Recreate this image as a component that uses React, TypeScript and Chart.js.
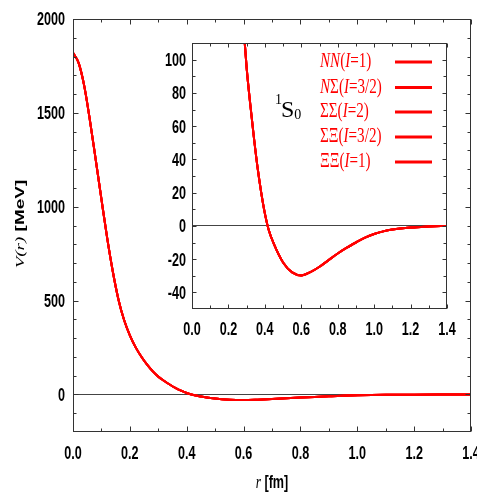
import { useEffect, useRef } from "react";
import { Chart, registerables } from "chart.js";
Chart.register(...registerables);

// r [fm]
const rValues = [0.0, 0.02, 0.04, 0.06, 0.08, 0.1, 0.12, 0.14, 0.16, 0.18, 0.2, 0.22, 0.24, 0.26, 0.28, 0.3, 0.32, 0.34, 0.36, 0.38, 0.4, 0.42, 0.45, 0.5, 0.55, 0.6, 0.65, 0.7, 0.75, 0.8, 0.85, 0.9, 0.95, 1.0, 1.05, 1.1, 1.2, 1.3, 1.4];
// V(r) [MeV] (all five channels coincide)
const vValues = [1820, 1765, 1640, 1455, 1250, 1040, 835, 655, 505, 395, 315, 252, 202, 160, 124, 95, 73, 53, 35, 20, 7.5, -2, -11, -22, -28, -29.8, -27.8, -24.6, -20.6, -16.6, -13.1, -10, -7.1, -4.9, -3.3, -2.2, -1, -0.4, 0];

const seriesLabels = ["NN(I=1)", "NΣ(I=3/2)", "ΣΣ(I=2)", "ΣΞ(I=3/2)", "ΞΞ(I=1)"];

const xMajorTicks = [0, 0.2, 0.4, 0.6, 0.8, 1.0, 1.2, 1.4];
const xMinorTicks = [0.1, 0.3, 0.5, 0.7, 0.9, 1.1, 1.3];
const mainYMajorTicks = [0, 500, 1000, 1500, 2000];
const mainYMinorTicks = [-100, 100, 200, 300, 400, 600, 700, 800, 900, 1100, 1200, 1300, 1400, 1600, 1700, 1800, 1900];
const insetYMajorTicks = [-40, -20, 0, 20, 40, 60, 80, 100];
const insetYMinorTicks = [-30, -10, 10, 30, 50, 70, 90];

const RED = "#ff0000";
const AXIS = "#333333";
const SX = 0.7; // horizontal squeeze of the reference's lettering

function drawText(ctx: CanvasRenderingContext2D, text: string, x: number, y: number, font: string, align: CanvasTextAlign, sx = SX, color = "#000") {
  ctx.save();
  ctx.translate(x, y);
  ctx.scale(sx, 1);
  ctx.font = font;
  ctx.fillStyle = color;
  ctx.textAlign = align;
  ctx.textBaseline = "alphabetic";
  ctx.fillText(text, 0, 0);
  ctx.restore();
}

type FrameCfg = {
  id: string;
  yMajor: number[];
  yMinor: number[];
  majorLen: number;
  minorLen: number;
  yLabelGap: number;
  xLabelBaseline: number;
  extra?: (ctx: CanvasRenderingContext2D, chart: any) => void;
};

function makeFrame(cfg: FrameCfg) {
  return {
    id: "frame_" + cfg.id,
    beforeDatasetsDraw(chart: any) {
      const ctx = chart.ctx as CanvasRenderingContext2D;
      const a = chart.chartArea;
      const y0 = Math.floor(chart.scales.y.getPixelForValue(0)) + 0.5;
      ctx.save();
      ctx.strokeStyle = "#444";
      ctx.lineWidth = 1;
      ctx.beginPath();
      ctx.moveTo(a.left, y0);
      ctx.lineTo(a.right, y0);
      ctx.stroke();
      ctx.restore();
    },
    afterDatasetsDraw(chart: any) {
      const ctx = chart.ctx as CanvasRenderingContext2D;
      const a = chart.chartArea;
      const xs = chart.scales.x;
      const ys = chart.scales.y;
      const L = Math.floor(a.left) + 0.5;
      const R = Math.floor(a.right) - 0.5;
      const T = Math.floor(a.top) + 0.5;
      const B = Math.floor(a.bottom) - 0.5;
      ctx.save();
      ctx.strokeStyle = AXIS;
      ctx.lineWidth = 1;
      ctx.strokeRect(L, T, R - L, B - T);
      ctx.beginPath();
      const xt = (vals: number[], len: number) => {
        vals.forEach((v) => {
          const px = Math.round(xs.getPixelForValue(v)) + 0.5;
          ctx.moveTo(px, B);
          ctx.lineTo(px, B - len);
          ctx.moveTo(px, T);
          ctx.lineTo(px, T + len);
        });
      };
      const yt = (vals: number[], len: number) => {
        vals.forEach((v) => {
          const py = Math.round(ys.getPixelForValue(v)) + 0.5;
          ctx.moveTo(L, py);
          ctx.lineTo(L + len, py);
          ctx.moveTo(R, py);
          ctx.lineTo(R - len, py);
        });
      };
      xt(xMajorTicks, cfg.majorLen);
      xt(xMinorTicks, cfg.minorLen);
      yt(cfg.yMajor, cfg.majorLen);
      yt(cfg.yMinor, cfg.minorLen);
      ctx.stroke();
      ctx.restore();

      const tickFont = 'bold 18px "Liberation Sans", Arial, sans-serif';
      cfg.yMajor.forEach((v) => {
        const py = ys.getPixelForValue(v);
        drawText(ctx, String(v), a.left - cfg.yLabelGap, py + 6.4, tickFont, "right");
      });
      xMajorTicks.forEach((v) => {
        const px = xs.getPixelForValue(v);
        drawText(ctx, v.toFixed(1), px, cfg.xLabelBaseline, tickFont, "center");
      });
      if (cfg.extra) cfg.extra(ctx, chart);
    },
  };
}

function mainExtra(ctx: CanvasRenderingContext2D, chart: any) {
  // y title, rotated
  const pieces = [
    { t: "V(r)", f: 'italic 19px "Liberation Serif", serif' },
    { t: " ", f: 'bold 19px "Liberation Sans", sans-serif' },
    { t: "[MeV]", f: 'bold 19px "Liberation Sans", sans-serif' },
  ];
  ctx.save();
  let total = 0;
  pieces.forEach((p) => {
    ctx.font = p.f;
    total += ctx.measureText(p.t).width;
  });
  ctx.translate(24, 224);
  ctx.scale(SX, 1);
  ctx.rotate(-Math.PI / 2);
  ctx.fillStyle = "#000";
  ctx.textBaseline = "alphabetic";
  ctx.textAlign = "left";
  let x = -total / 2;
  pieces.forEach((p) => {
    ctx.font = p.f;
    ctx.fillText(p.t, x, 0);
    x += ctx.measureText(p.t).width;
  });
  ctx.restore();

  // x title
  const a = chart.chartArea;
  const cx = (a.left + a.right) / 2;
  const xp = [
    { t: "r", f: 'italic 19px "Liberation Serif", serif' },
    { t: " ", f: 'bold 18px "Liberation Sans", sans-serif' },
    { t: "[fm]", f: 'bold 18px "Liberation Sans", sans-serif' },
  ];
  ctx.save();
  let tw = 0;
  xp.forEach((p) => {
    ctx.font = p.f;
    tw += ctx.measureText(p.t).width;
  });
  ctx.translate(cx, 488);
  ctx.scale(SX, 1);
  ctx.fillStyle = "#000";
  ctx.textBaseline = "alphabetic";
  ctx.textAlign = "left";
  let xx = -tw / 2;
  xp.forEach((p) => {
    ctx.font = p.f;
    ctx.fillText(p.t, xx, 0);
    xx += ctx.measureText(p.t).width;
  });
  ctx.restore();
}

function insetExtra(ctx: CanvasRenderingContext2D) {
  // legend (canvas coords: page - (150, 35))
  const rowY = [27, 52.5, 77, 102, 127];
  seriesLabels.forEach((lab, i) => {
    const cy = rowY[i];
    ctx.save();
    ctx.translate(170, cy + 5);
    ctx.scale(0.72, 1);
    ctx.fillStyle = RED;
    ctx.textBaseline = "alphabetic";
    ctx.textAlign = "left";
    let x = 0;
    for (const ch of lab) {
      ctx.font = (/[A-Za-z]/.test(ch) ? "italic " : "") + '21px "Liberation Serif", serif';
      ctx.fillText(ch, x, 0);
      x += ctx.measureText(ch).width;
    }
    ctx.restore();
    ctx.save();
    ctx.strokeStyle = RED;
    ctx.lineWidth = 3;
    ctx.beginPath();
    ctx.moveTo(245, cy);
    ctx.lineTo(282, cy);
    ctx.stroke();
    ctx.restore();
  });
  // 1S0
  ctx.save();
  ctx.fillStyle = "#000";
  ctx.textBaseline = "alphabetic";
  ctx.textAlign = "left";
  ctx.font = '14px "Liberation Serif", serif';
  ctx.fillText("1", 125, 69);
  ctx.font = '24px "Liberation Serif", serif';
  ctx.fillText("S", 131, 82);
  const sw = ctx.measureText("S").width;
  ctx.font = '14px "Liberation Serif", serif';
  ctx.fillText("0", 131 + sw, 84);
  ctx.restore();
}

function buildDatasets() {
  const pts = rValues.map((r, i) => ({ x: r, y: vValues[i] }));
  return seriesLabels.map((label) => ({
    label,
    data: pts,
    borderColor: RED,
    backgroundColor: RED,
    borderWidth: 2,
    pointRadius: 0,
    fill: false,
    cubicInterpolationMode: "monotone" as const,
  }));
}

export default function App() {
  const mainRef = useRef<HTMLCanvasElement>(null);
  const insetRef = useRef<HTMLCanvasElement>(null);

  useEffect(() => {
    const main = new Chart(mainRef.current!, {
      type: "line",
      data: { datasets: buildDatasets() as any },
      options: {
        responsive: false,
        animation: false,
        layout: { padding: { left: 73, top: 19, right: 6, bottom: 62 } },
        scales: {
          x: { type: "linear", min: 0, max: 1.4, display: false },
          y: { type: "linear", min: -200, max: 2000, display: false },
        },
        plugins: { legend: { display: false }, tooltip: { enabled: false } },
      },
      plugins: [
        makeFrame({
          id: "main",
          yMajor: mainYMajorTicks,
          yMinor: mainYMinorTicks,
          majorLen: 5,
          minorLen: 3,
          yLabelGap: 8,
          xLabelBaseline: 458.5,
          extra: mainExtra,
        }),
      ],
    });
    const inset = new Chart(insetRef.current!, {
      type: "line",
      data: { datasets: buildDatasets() as any },
      options: {
        responsive: false,
        animation: false,
        layout: { padding: { left: 42, top: 8, right: 13, bottom: 38 } },
        scales: {
          x: { type: "linear", min: 0, max: 1.4, display: false },
          y: { type: "linear", min: -50, max: 110, display: false },
        },
        plugins: { legend: { display: false }, tooltip: { enabled: false } },
      },
      plugins: [
        makeFrame({
          id: "inset",
          yMajor: insetYMajorTicks,
          yMinor: insetYMinorTicks,
          majorLen: 4,
          minorLen: 3,
          yLabelGap: 6,
          xLabelBaseline: 300,
          extra: insetExtra,
        }),
      ],
    });
    return () => {
      main.destroy();
      inset.destroy();
    };
  }, []);

  return (
    <div style={{ position: "absolute", left: 0, top: 0, width: 477, height: 494, background: "#fff" }}>
      <canvas ref={mainRef} width={477} height={494} style={{ position: "absolute", left: 0, top: 0, width: 477, height: 494 }} />
      <canvas ref={insetRef} width={310} height={312} style={{ position: "absolute", left: 150, top: 35, width: 310, height: 312 }} />
    </div>
  );
}
